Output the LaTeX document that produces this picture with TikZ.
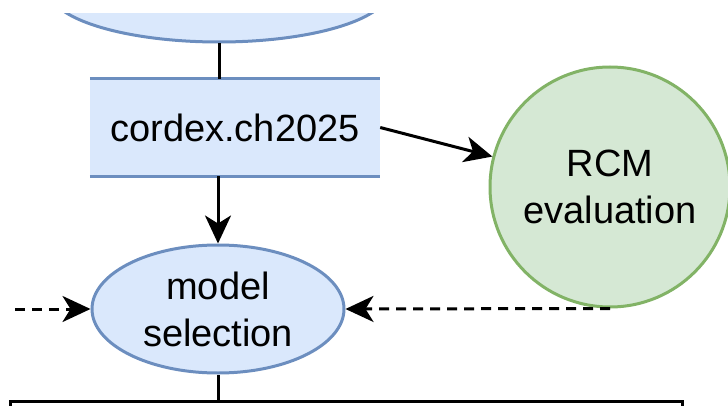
\documentclass[tikz,border=0pt]{standalone}
\usepackage{fontspec}
\setmainfont{Liberation Sans}
\usetikzlibrary{shapes.geometric,arrows.meta}
\definecolor{bluefill}{HTML}{DAE8FC}
\definecolor{bluedraw}{HTML}{6C8EBF}
\definecolor{greenfill}{HTML}{D5E8D4}
\definecolor{greendraw}{HTML}{82B366}

\begin{document}
\begin{tikzpicture}[x=1pt,y=-1pt]
	\tikzstyle{term}=[ellipse,fill=bluefill,draw=bluedraw,line width=3pt,inner sep=0pt,align=center]
	\tikzstyle{proc}=[rectangle,fill=bluefill,inner sep=0pt,minimum width=290pt,minimum height=97pt]
	\tikzstyle{evalnode}=[circle,fill=greenfill,draw=greendraw,line width=3pt,minimum size=240pt,inner sep=0pt,align=center]
	\tikzstyle{conn}=[line width=3pt,-{Stealth[length=28pt,width=26pt,inset=8pt]}]
	\tikzstyle{dconn}=[conn,dash pattern=on 10pt off 7pt]
	\useasboundingbox (0,0) rectangle (728,406);
	\begin{scope}
	\clip (0,14) rectangle (728,406);
	\fontsize{38}{47}\selectfont
	\node[term,minimum width=340pt,minimum height=104pt] (top) at (219,-10) {};
	\node[proc] (ch2025) at (235,127.5) {cordex.ch2025};
	\node[evalnode] (rcm) at (610,187) {RCM\\evaluation};
	\node[term,minimum width=252pt,minimum height=128pt] (select) at (218,309) {model\\selection};
	\node[draw=black,line width=3pt,minimum width=672pt,minimum height=100pt] (container) at (346,451) {};
	\coordinate (left) at (15,309);
	\end{scope}
	
	\draw[bluedraw,line width=3pt] (ch2025.north west) -- (ch2025.north east);
	\draw[bluedraw,line width=3pt] (ch2025.south west) -- (ch2025.south east);
	
	\path[line width=3pt]
	(top.south) edge (top.south |- ch2025.north)
	(select.south) edge (select.south |- container.north)
	;
	\path[conn]
	(ch2025.south -| select.north) edge (select.north)
	(ch2025.east) edge (rcm)
	;
	\path[dconn]
	(left) edge (select.west)
	(rcm.south) edge (select.east)
	;
\end{tikzpicture}
\end{document}
